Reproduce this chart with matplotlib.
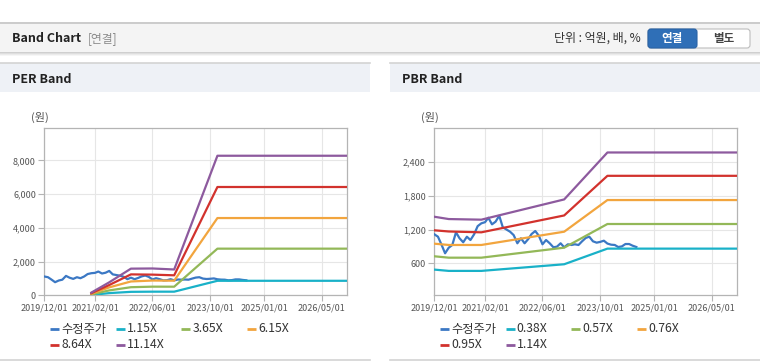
import matplotlib
matplotlib.use('Agg')
import matplotlib.pyplot as plt
from matplotlib.patches import Rectangle, FancyBboxPatch
from matplotlib.ticker import FuncFormatter
import pandas as pd

plt.rcParams['font.family'] = ['Noto Sans CJK KR', 'DejaVu Sans']

W, H = 760, 364

# ---------------- data ----------------
price_start = '2019-12-01'
price = [1115, 1072, 925, 777, 877, 925, 1150, 1044, 973, 1072, 1013, 1115,
         1260, 1310, 1330, 1409, 1292, 1339, 1445, 1240, 1200, 1160, 1100, 955,
         1044, 955, 1031, 1120, 1173, 1090, 937, 1013, 955, 884, 895, 955,
         884, 937, 925, 937, 925, 990, 1050, 1072, 990, 966, 980, 1001,
         950, 930, 925, 889, 900, 942, 942, 912, 889]

x_ticks = ['2019-12-01', '2021-02-01', '2022-06-01', '2023-10-01', '2025-01-01', '2026-05-01']
x_tick_labels = ['2019/12/01', '2021/02/01', '2022/06/01', '2023/10/01', '2025/01/01', '2026/05/01']
x_range = ['2019-12-01', '2026-12-01']

per_dates = ['2021-01-01', '2021-06-01', '2021-12-01', '2022-06-01', '2022-12-01', '2023-12-01', '2026-12-01']
per_labels = ['1.15X', '3.65X', '6.15X', '8.64X', '11.14X']
per_115 = [20, 130, 205, 215, 215, 860, 860]
per_365 = [55, 290, 480, 512, 510, 2765, 2765]
per_615 = [90, 470, 820, 875, 866, 4580, 4580]
per_864 = [125, 610, 1240, 1225, 1185, 6420, 6420]
per_1114 = [160, 770, 1580, 1590, 1530, 8273, 8273]
per_yticks = [0, 2000, 4000, 6000, 8000]

pbr_dates = ['2019-12-01', '2020-04-01', '2021-01-01', '2022-12-01', '2023-12-01', '2026-12-01']
pbr_labels = ['0.38X', '0.57X', '0.76X', '0.95X', '1.14X']
pbr_038 = [487, 464, 464, 582, 860, 860]
pbr_057 = [724, 699, 699, 877, 1298, 1298]
pbr_076 = [948, 925, 925, 1161, 1724, 1724]
pbr_095 = [1186, 1165, 1150, 1450, 2155, 2155]
pbr_114 = [1427, 1386, 1375, 1735, 2570, 2570]
pbr_yticks = [600, 1200, 1800, 2400]

price_label = '수정주가'
price_color = '#3b78c4'
band_colors = ['#19b1c8', '#93b858', '#f2a53e', '#d2322d', '#8d5a9e']

# ---------------- figure ----------------
fig = plt.figure(figsize=(W / 100, H / 100), dpi=100)
fig.patch.set_facecolor('white')

bg = fig.add_axes([0, 0, 1, 1], zorder=-1)
bg.set_xlim(0, W)
bg.set_ylim(H, 0)
bg.axis('off')

# header
bg.add_patch(Rectangle((0, 22), W, 30, fc='#f4f4f4', ec='none'))
bg.plot([0, W], [22.5, 22.5], color='#c4c4c4', lw=1.2)
for i, c in enumerate(['#cfcfcf', '#dedede', '#ebebeb', '#f6f6f6']):
    bg.add_patch(Rectangle((0, 52 + i), W, 1, fc=c, ec='none'))
bg.text(12, 38.5, 'Band Chart', fontsize=9, fontweight='bold', color='#222222', va='center', ha='left')
bg.text(88, 38.5, '[연결]', fontsize=8.5, color='#8a8a8a', va='center', ha='left')
bg.text(641, 38.5, '단위 : 억원, 배, %', fontsize=8.6, color='#333333', va='center', ha='right')
bg.add_patch(FancyBboxPatch((648, 29), 102, 19, boxstyle='round,pad=0,rounding_size=3',
                            fc='white', ec='#bdbdbd', lw=0.8))
bg.add_patch(FancyBboxPatch((648, 29), 49, 19, boxstyle='round,pad=0,rounding_size=3',
                            fc='#2f6fb7', ec='#2a63a6', lw=0.8))
bg.text(672.5, 38.5, '연결', fontsize=8.3, fontweight='bold', color='white', va='center', ha='center')
bg.text(723.5, 38.5, '별도', fontsize=8.3, fontweight='bold', color='#444444', va='center', ha='center')


def px_rect(l, t, r, b):
    return [l / W, 1 - b / H, (r - l) / W, (b - t) / H]


def draw_panel(x0, x1, title, ax_rect, dates, bands, labels, ylim, yticks):
    bg.add_patch(Rectangle((x0, 63), x1 - x0, 29, fc='#eef1f6', ec='none'))
    bg.plot([x0, x1], [63, 63], color='#d3d3d3', lw=1.2)
    bg.plot([x0, x1], [360, 360], color='#d3d3d3', lw=1.2)
    bg.text(x0 + 12, 79.5, title, fontsize=9, fontweight='bold', color='#222222', va='center', ha='left')
    bg.text(x0 + 39.5, 117, '(원)', fontsize=8, color='#555555', va='center', ha='center')

    ax = fig.add_axes(px_rect(*ax_rect))
    pdates = pd.date_range(price_start, periods=len(price), freq='MS')
    ax.plot(pdates, price, color=price_color, lw=1.6, zorder=3)
    d = pd.to_datetime(dates)
    for vals, c in zip(bands, band_colors):
        ax.plot(d, vals, color=c, lw=1.6, zorder=4)
    ax.set_xlim(pd.Timestamp(x_range[0]), pd.Timestamp(x_range[1]))
    ax.set_ylim(*ylim)
    ax.set_yticks(yticks)
    ax.yaxis.set_major_formatter(FuncFormatter(lambda v, p: f'{v:,.0f}'))
    ax.set_xticks(pd.to_datetime(x_ticks))
    ax.set_xticklabels(x_tick_labels)
    ax.grid(color='#e6e6e6', lw=0.8)
    ax.set_axisbelow(True)
    for s in ax.spines.values():
        s.set_color('#b4b4b4')
        s.set_linewidth(0.9)
    ax.tick_params(labelsize=6.5, labelcolor='#555555', color='#b4b4b4', length=4, pad=2, width=0.8)

    # legend
    names = [price_label] + labels
    cols = [price_color] + band_colors
    for i, (n, c) in enumerate(zip(names, cols)):
        r, k = divmod(i, 4)
        lx = x0 + 50 + k * 65.7
        ly = 329 + r * 16
        bg.plot([lx, lx + 9], [ly, ly], color=c, lw=2, solid_capstyle='butt')
        bg.text(lx + 11, ly, n, fontsize=8.8, color='#333333', va='center', ha='left')
    return ax


draw_panel(0, 370, 'PER Band', (44.3, 128.3, 347.3, 295.3), per_dates,
           [per_115, per_365, per_615, per_864, per_1114], per_labels, (0, 9900), per_yticks)
draw_panel(390, 760, 'PBR Band', (434.3, 128.3, 737.3, 295.3), pbr_dates,
           [pbr_038, pbr_057, pbr_076, pbr_095, pbr_114], pbr_labels, (30, 3000), pbr_yticks)

fig.savefig('out.png', dpi=100, facecolor='white')
